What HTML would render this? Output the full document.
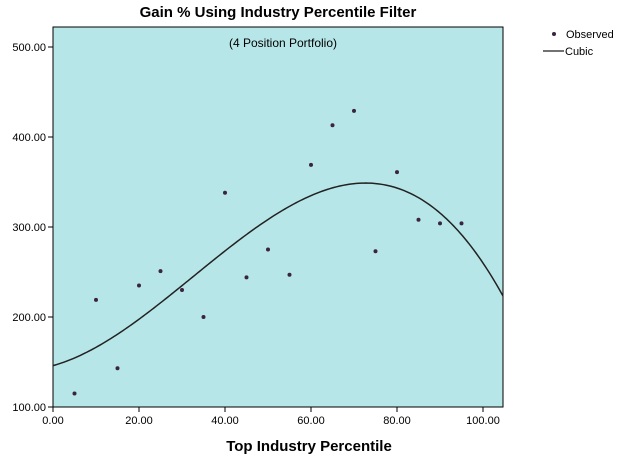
<!DOCTYPE html>
<html><head><meta charset="utf-8"><style>
html,body{margin:0;padding:0;background:#fff;width:637px;height:461px;overflow:hidden}
svg{display:block;font-family:"Liberation Sans",Arial,sans-serif}
</style></head><body>
<svg id="chart" width="637" height="461" viewBox="0 0 637 461">
<text x="278" y="17" text-anchor="middle" font-size="15" font-weight="bold" fill="#000">Gain % Using Industry Percentile Filter</text>
<rect x="53" y="27" width="450" height="380" fill="#b7e6e8" stroke="#000" stroke-width="1"/>
<text x="283" y="47" text-anchor="middle" font-size="12" fill="#000">(4 Position Portfolio)</text>
<g id="axes"></g>
<g id="marks"></g>
<text x="309" y="451" text-anchor="middle" font-size="15" font-weight="bold" fill="#000">Top Industry Percentile</text>
<g>
<circle cx="554" cy="34" r="2" fill="#3a2440"/>
<text x="566" y="38" font-size="11" fill="#000">Observed</text>
<line x1="543" y1="51" x2="564" y2="51" stroke="#444" stroke-width="1.6"/>
<text x="565" y="55" font-size="11" fill="#000">Cubic</text>
</g>
</svg>
<script>
const xValues=[5,10,15,20,25,30,35,40,45,50,55,60,65,70,75,80,85,90,95];
const yValues=[115,219,143,235,251,230,200,338,244,275,247,369,413,429,273,361,308,304,304];
const xTicks=[0,20,40,60,80,100];
const yTicks=[100,200,300,400,500];
const NS="http://www.w3.org/2000/svg";
const X=v=>53+v*4.3;
const Y=v=>407-(v-100)*0.9;
const axes=document.getElementById('axes'),marks=document.getElementById('marks');
function mk(tag,attrs,parent){const e=document.createElementNS(NS,tag);for(const k in attrs)e.setAttribute(k,attrs[k]);parent.appendChild(e);return e;}
xTicks.forEach(t=>{
 const l=mk('line',{x1:X(t),x2:X(t),y1:407,y2:412,stroke:'#000'},axes);
 
 
 const tx=mk('text',{x:X(t),y:424,'text-anchor':'middle','font-size':11,fill:'#000'},axes);
 tx.textContent=t.toFixed(2);
 
 
});
yTicks.forEach(t=>{
 const l=mk('line',{x1:48,x2:53,y1:Y(t),y2:Y(t),stroke:'#000'},axes);
 
 
 const tx=mk('text',{x:46,y:Y(t)+4,'text-anchor':'end','font-size':11,fill:'#000'},axes);
 tx.textContent=t.toFixed(2);
 
 
});
// cubic least squares fit
const n=4,A=[],b=[];
for(let i=0;i<n;i++){A.push([0,0,0,0]);b.push(0);}
xValues.forEach((x,k)=>{for(let i=0;i<n;i++){b[i]+=Math.pow(x,i)*yValues[k];for(let j=0;j<n;j++)A[i][j]+=Math.pow(x,i+j);}});
for(let i=0;i<n;i++){let p=i;for(let r=i+1;r<n;r++)if(Math.abs(A[r][i])>Math.abs(A[p][i]))p=r;[A[i],A[p]]=[A[p],A[i]];[b[i],b[p]]=[b[p],b[i]];
 for(let r=0;r<n;r++){if(r===i)continue;const f=A[r][i]/A[i][i];for(let c=i;c<n;c++)A[r][c]-=f*A[i][c];b[r]-=f*b[i];}}
const coef=b.map((v,i)=>v/A[i][i]);
const f=x=>coef[0]+coef[1]*x+coef[2]*x*x+coef[3]*x*x*x;
let d='';const xmax=(503-53)/4.3;
for(let i=0;i<=200;i++){const x=xmax*i/200;d+=(i?'L':'M')+X(x).toFixed(2)+','+Y(f(x)).toFixed(2);}
const path=mk('path',{d:d,fill:'none',stroke:'#222','stroke-width':1.5},marks);


xValues.forEach((x,k)=>{
 const c=mk('circle',{cx:X(x),cy:Y(yValues[k]),r:2,fill:'#3a2440'},marks);
 
 
});
</script>
</body></html>
